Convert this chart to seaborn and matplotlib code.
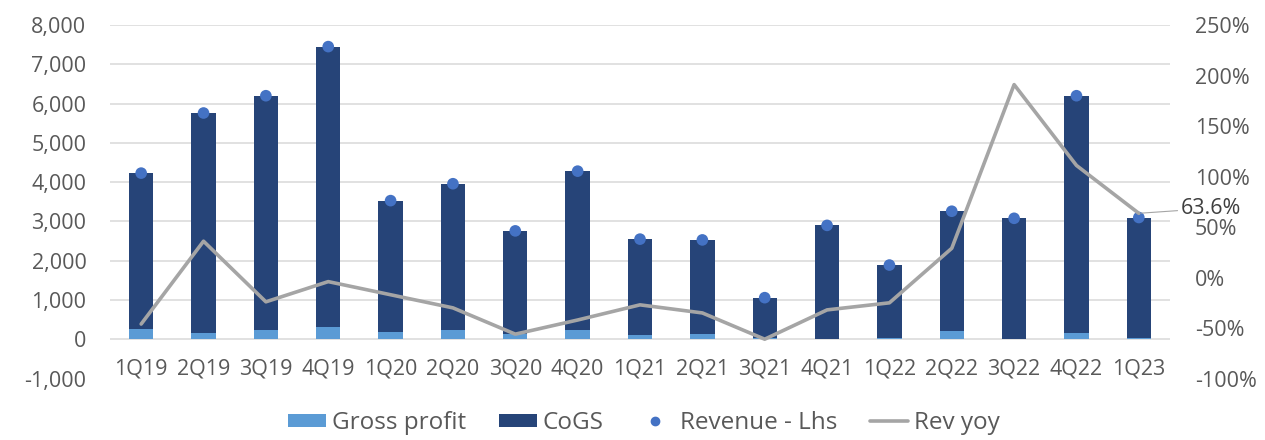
import numpy as np
import pandas as pd
import matplotlib
matplotlib.use("Agg")
import matplotlib.pyplot as plt
import seaborn as sns
from matplotlib.patches import Patch
from matplotlib.lines import Line2D
from matplotlib.ticker import FuncFormatter

# ---------------- data ----------------
quarters = ["1Q19", "2Q19", "3Q19", "4Q19", "1Q20", "2Q20", "3Q20", "4Q20",
            "1Q21", "2Q21", "3Q21", "4Q21", "1Q22", "2Q22", "3Q22", "4Q22", "1Q23"]
revenue = [4230, 5760, 6200, 7450, 3530, 3960, 2760, 4280,
           2550, 2530, 1060, 2900, 1890, 3260, 3080, 6200, 3100]
gross_profit = [254, 170, 237, 322, 178, 237, 130, 246,
                119, 136, 40, 10, 42, 204, 10, 168, 40]
cogs = [r - g for r, g in zip(revenue, gross_profit)]
rev_yoy = [-46, 36, -24, -4, -17, -30, -56, -42,
           -27, -35, -61, -32, -25, 29, 191, 111, 63.6]
left_ticks = [-1000, 0, 1000, 2000, 3000, 4000, 5000, 6000, 7000, 8000]
right_ticks = [-100, -50, 0, 50, 100, 150, 200, 250]
last_label = "63.6%"

# ---------------- style ----------------
sns.set_theme(style="white")
plt.rcParams["font.family"] = ["Open Sans", "DejaVu Sans"]

C_GP = "#5B9BD5"
C_COGS = "#264478"
C_DOT = "#4472C4"
C_LINE = "#A5A5A5"
C_TXT = "#595959"
C_GRID = "#D9D9D9"
FS = 15.5
FS_LEG = 17.5

df = pd.DataFrame({"quarter": quarters, "revenue": revenue,
                   "gp": gross_profit, "cogs": cogs, "yoy": rev_yoy})
df["total"] = df["gp"] + df["cogs"]
df["pos"] = np.arange(len(df))

fig = plt.figure(figsize=(12.65, 4.4), dpi=100)
ax = fig.add_axes([110 / 1265, 1 - 378.6 / 440, 1060 / 1265, (378.6 - 25) / 440])

# stacked bars: CoGS stacked on gross profit (total height), gross profit at base
sns.barplot(data=df, x="quarter", y="total", color=C_COGS, width=0.39,
            saturation=1, ax=ax, order=quarters, zorder=2, edgecolor="none")
sns.barplot(data=df, x="quarter", y="gp", color=C_GP, width=0.39,
            saturation=1, ax=ax, order=quarters, zorder=3, edgecolor="none")
sns.scatterplot(data=df, x="pos", y="revenue", color=C_DOT, s=70,
                edgecolor="none", ax=ax, zorder=4, legend=False)

ax.set_xlim(-0.5, len(quarters) - 0.5)
ax.set_ylim(-1000, 8000)
ax.set_yticks(left_ticks)
ax.yaxis.set_major_formatter(FuncFormatter(lambda v, p: f"{int(v):,}"))
ax.set_xticks(range(len(quarters)))
ax.set_xticklabels(quarters)
for s in ax.spines.values():
    s.set_visible(False)
ax.spines["bottom"].set_position(("data", 0))
ax.tick_params(axis="x", length=0, pad=13.5, labelsize=FS, labelcolor=C_TXT)
ax.tick_params(axis="y", length=0, pad=17, labelsize=FS, labelcolor=C_TXT)
for t in left_ticks:
    if t >= 0:
        ax.axhline(t, color=C_GRID, lw=1.1, zorder=1)
ax.set_xlabel("")
ax.set_ylabel("")

ax2 = ax.twinx()
sns.lineplot(data=df, x="pos", y="yoy", color=C_LINE, lw=2.6, ax=ax2, zorder=5)
ax2.set_ylim(-100, 250)
ax2.set_yticks(right_ticks)
ax2.yaxis.set_major_formatter(FuncFormatter(lambda v, p: f"{int(v)}%"))
for s in ax2.spines.values():
    s.set_visible(False)
ax2.tick_params(axis="y", length=0, pad=18, labelsize=FS, labelcolor=C_TXT)
ax2.set_ylabel("")
ax2.set_xlabel("")
ax2.set_xlim(-0.5, len(quarters) - 0.5)

ax2.annotate(last_label, xy=(df["pos"].iloc[-1], df["yoy"].iloc[-1]),
             xytext=(42, 5), textcoords="offset pixels", ha="left", va="center",
             fontsize=FS, color="#404040",
             arrowprops=dict(arrowstyle="-", color=C_LINE, lw=0.8,
                             shrinkA=0, shrinkB=2))

handles = [Patch(facecolor=C_GP, edgecolor="none"),
           Patch(facecolor=C_COGS, edgecolor="none"),
           Line2D([], [], marker="o", ls="none", color=C_DOT, markersize=6),
           Line2D([], [], color=C_LINE, lw=2.6)]
labels = ["Gross profit", "CoGS", "Revenue - Lhs", "Rev yoy"]
fig.legend(handles, labels, loc="center", bbox_to_anchor=(644 / 1265, 1 - 423 / 440),
           ncol=4, frameon=False, fontsize=FS_LEG, labelcolor=C_TXT,
           handlelength=1.55, handleheight=0.45, handletextpad=0.25,
           columnspacing=1.35)

fig.savefig("out.png", dpi=100)
